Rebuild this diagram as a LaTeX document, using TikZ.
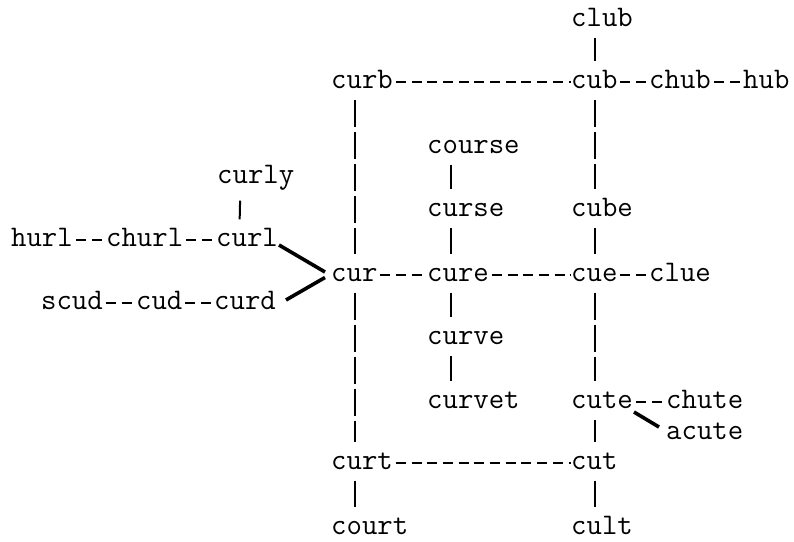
\documentclass[tikz,border=0pt]{standalone}
\begin{document}
\begin{tikzpicture}[x=1pt,y=-1pt,
  w/.style={inner sep=0pt, anchor=base west, text height=20pt, text depth=0pt,
            font=\fontsize{29.9}{34}\selectfont\ttfamily},
  hl/.style={line width=2pt, dash pattern=on 10pt off 5.7pt, dash phase=-2.85pt},
  vl/.style={line width=2pt, dash pattern=on 27pt off 5pt, shorten <=11pt, shorten >=7pt},
  tl/.style={line width=3.6pt}]
\useasboundingbox (0,0) rectangle (794,541);
% words (left edge, baseline)
\node[w] (club)   at (571,26.5)  {club};
\node[w] (curb)   at (331,88.5)  {curb};
\node[w] (cub)    at (571,88.5)  {cub};
\node[w] (chub)   at (649,88.5)  {chub};
\node[w] (hub)    at (743,88.5)  {hub};
\node[w] (course) at (427,153.5) {course};
\node[w] (curly)  at (217,183.5) {curly};
\node[w] (curse)  at (427,216.5) {curse};
\node[w] (cube)   at (571,216.5) {cube};
\node[w] (hurl)   at (11,246.5)  {hurl};
\node[w] (churl)  at (106,246.5) {churl};
\node[w] (curl)   at (216,246.5) {curl};
\node[w] (cur)    at (331,281.5) {cur};
\node[w] (cure)   at (427,281.5) {cure};
\node[w] (cue)    at (571,281.5) {cue};
\node[w] (clue)   at (649,281.5) {clue};
\node[w] (scud)   at (41,309.5)  {scud};
\node[w] (cud)    at (136,309.5) {cud};
\node[w] (curd)   at (214,309.5) {curd};
\node[w] (curve)  at (427,344.5) {curve};
\node[w] (curvet) at (427,408.5) {curvet};
\node[w] (cute)   at (571,408.5) {cute};
\node[w] (chute)  at (666,408.5) {chute};
\node[w] (acute)  at (666,439.5) {acute};
\node[w] (curt)   at (331,469.5) {curt};
\node[w] (cut)    at (571,469.5) {cut};
\node[w] (court)  at (331,534.5) {court};
\node[w] (cult)   at (571,534.5) {cult};
% horizontal connectors
\foreach \a/\b in {curb/cub, cub/chub, chub/hub, hurl/churl, churl/curl,
                   cur/cure, cure/cue, cue/clue, scud/cud, cud/curd,
                   cute/chute, curt/cut}
  \draw[hl] ([yshift=6.5pt]\a.base east) -- ([yshift=6.5pt]\b.base west);
% vertical connectors
\foreach \a/\b in {club/cub, curb/cur, cub/cube, cube/cue, course/curse,
                   curse/cure, cur/curt, cure/curve, curve/curvet,
                   cue/cute, cute/cut, curt/court, cut/cult}
  \draw[vl] ([xshift=23.5pt]\a.south west) -- ([xshift=23.5pt]\b.north west);
\draw[vl, shorten <=17pt] ([xshift=23.5pt]curly.south west) -- ([xshift=23.5pt]curl.north west);
% thick connectors
\draw[tl] ([shift={(1pt,1.5pt)}]curl.base east) -- ([shift={(-6pt,9.5pt)}]cur.base west);
\draw[tl] ([shift={(10pt,9.5pt)}]curd.base east) -- ([shift={(-6pt,4pt)}]cur.base west);
\draw[tl] ([shift={(1pt,-3.5pt)}]cute.base east) -- ([shift={(-7pt,12.5pt)}]acute.base west);
\end{tikzpicture}
\end{document}
